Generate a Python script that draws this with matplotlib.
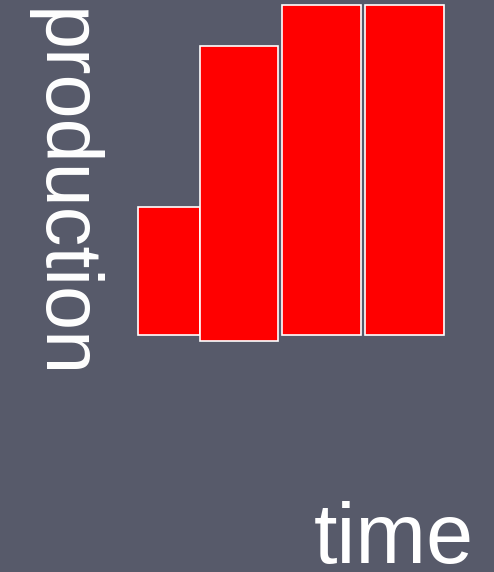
import matplotlib
matplotlib.use("Agg")
import matplotlib.pyplot as plt

# bar data (left edge, width, base, top) in pixel-like units
bar_left = [138, 200, 282, 365]
bar_width = [62, 78, 79, 79]
bar_base = [0, -6, 0, 0]
bar_top = [128, 289, 330, 330]

bg = "#575a6a"

fig = plt.figure(figsize=(4.94, 5.72), dpi=100, facecolor=bg)
ax = fig.add_axes([0, 0, 1, 1])
ax.set_facecolor(bg)

heights = [t - b for t, b in zip(bar_top, bar_base)]
ax.bar(bar_left, heights, width=bar_width, bottom=bar_base, align="edge",
       color="#ff0000", edgecolor="white", linewidth=1.2)

ax.set_xlim(0, 494)
ax.set_ylim(-237, 335)
ax.axis("off")

fig.text(0.124, 0.66, "production", rotation=-90, ha="center", va="center",
         color="white", fontsize=57, family="Liberation Sans")
fig.text(0.798, 0.016, "time", ha="center", va="baseline",
         color="white", fontsize=61, family="Liberation Sans")

fig.savefig("out.png", dpi=100, facecolor=bg)
